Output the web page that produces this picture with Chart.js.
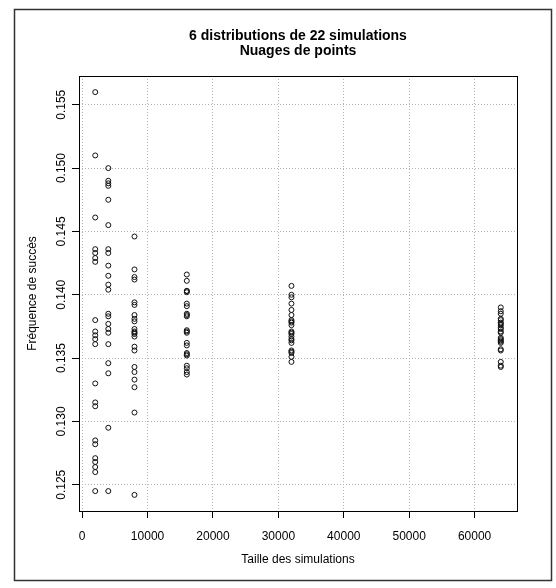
<!DOCTYPE html>
<html>
<head>
<meta charset="utf-8">
<script src="https://cdn.jsdelivr.net/npm/chart.js@4.4.1/dist/chart.umd.min.js"></script>
<style>
  html, body { margin: 0; padding: 0; background: #fff; }
</style>
</head>
<body>
<canvas id="nuages" width="556" height="588"></canvas>
<script>
/* données : 6 tailles de simulation, 22 fréquences chacune */
const tailles = [2000, 4000, 8000, 16000, 32000, 64000];

const freq2000 = [0.1560, 0.1510, 0.1461, 0.1436, 0.1433, 0.1429, 0.1426, 0.1380, 0.1371, 0.1368, 0.1365,
                  0.1361, 0.1330, 0.1315, 0.1312, 0.1285, 0.1282, 0.1271, 0.1268, 0.1264, 0.1260, 0.1245];
const freq4000 = [0.1500, 0.1490, 0.1488, 0.1486, 0.1475, 0.1455, 0.1436, 0.1433, 0.1423, 0.1415, 0.1408,
                  0.1404, 0.1385, 0.1383, 0.1377, 0.1373, 0.1370, 0.1361, 0.1346, 0.1338, 0.1295, 0.1245];
const freq8000 = [0.1446, 0.1420, 0.1414, 0.1412, 0.1394, 0.1392, 0.1384, 0.1381, 0.1379, 0.1373, 0.1371,
                  0.1370, 0.1369, 0.1367, 0.1359, 0.1356, 0.1343, 0.1339, 0.1333, 0.1327, 0.1307, 0.1242];
const freq16000 = [0.1416, 0.1411, 0.1403, 0.1403, 0.1402, 0.1393, 0.1391, 0.1385, 0.1384, 0.1383, 0.1372,
                   0.1371, 0.1370, 0.1362, 0.1360, 0.1354, 0.1353, 0.1352, 0.1344, 0.1342, 0.1339, 0.1337];
const freq32000 = [0.1407, 0.1400, 0.1398, 0.1393, 0.1388, 0.1384, 0.1380, 0.1379, 0.1378, 0.1376, 0.1371,
                   0.1370, 0.1369, 0.1367, 0.1365, 0.1364, 0.1362, 0.1356, 0.1355, 0.1354, 0.1351, 0.1347];
const freq64000 = [0.1390, 0.1387, 0.1385, 0.1381, 0.1380, 0.1378, 0.1377, 0.1376, 0.1374, 0.1373, 0.1371,
                   0.1370, 0.1366, 0.1365, 0.1364, 0.1363, 0.1362, 0.1357, 0.1356, 0.1347, 0.1344, 0.1343];
const frequences = [freq2000, freq4000, freq8000, freq16000, freq32000, freq64000];

const xTicks = [0, 10000, 20000, 30000, 40000, 50000, 60000];
const yTicks = [0.125, 0.130, 0.135, 0.140, 0.145, 0.150, 0.155];

/* fin données */

// étendue à la R : 4% de marge de chaque côté
function etendue(vals) {
  const mn = Math.min(...vals), mx = Math.max(...vals);
  const d = (mx - mn) * 0.04;
  return [mn - d, mx + d];
}

const points = [];
tailles.forEach(function (t, i) {
  frequences[i].forEach(function (f) { points.push({ x: t, y: f }); });
});

const limX = etendue(tailles);
const limY = etendue(frequences.flat());

const police = "'Liberation Sans', Arial, sans-serif";

// cadre de la figure + boîte du graphe
const cadre = {
  id: 'cadre',
  beforeDraw(chart) {
    const ctx = chart.ctx;
    ctx.save();
    ctx.fillStyle = '#fff';
    ctx.fillRect(0, 0, chart.width, chart.height);
    ctx.strokeStyle = '#333';
    ctx.lineWidth = 1.5;
    ctx.strokeRect(14.5, 9.5, 537, 571);
    ctx.restore();
  },
  afterDraw(chart) {
    const a = chart.chartArea;
    const ctx = chart.ctx;
    ctx.save();
    ctx.strokeStyle = '#000';
    ctx.lineWidth = 1;
    ctx.strokeRect(Math.round(a.left) + 0.5, Math.round(a.top) + 0.5,
                   Math.round(a.right - a.left), Math.round(a.bottom - a.top));
    ctx.restore();
  }
};

new Chart(document.getElementById('nuages').getContext('2d'), {
  type: 'scatter',
  data: {
    datasets: [{
      label: 'simulations',
      data: points,
      pointRadius: 2.5,
      pointHoverRadius: 2.5,
      pointBorderWidth: 1,
      borderColor: '#111',
      backgroundColor: 'rgba(0,0,0,0)'
    }]
  },
  options: {
    responsive: false,
    animation: false,
    devicePixelRatio: 1,
    layout: { padding: { left: 0, right: 39, top: 0, bottom: 0 } },
    plugins: {
      legend: { display: false },
      tooltip: { enabled: false },
      title: {
        display: true,
        fullSize: false,
        text: ['6 distributions de 22 simulations', 'Nuages de points'],
        color: '#000',
        font: { family: police, size: 14, weight: 'bold', lineHeight: 15 / 14 },
        padding: { top: 28.5, bottom: 17.5 }
      }
    },
    scales: {
      x: {
        type: 'linear',
        min: limX[0],
        max: limX[1],
        afterBuildTicks: function (s) { s.ticks = xTicks.map(function (v) { return { value: v }; }); },
        afterFit: function (s) { s.height = 77; },
        ticks: {
          autoSkip: false,
          maxRotation: 0,
          padding: 11,
          color: '#000',
          font: { family: police, size: 12 },
          callback: function (v) { return String(v); }
        },
        grid: { color: '#b4b4b4', tickColor: '#000', tickLength: 7, tickBorderDash: [] },
        border: { display: false, dash: [1, 2] },
        title: {
          display: true,
          text: 'Taille des simulations',
          color: '#000',
          font: { family: police, size: 12 },
          padding: { top: 0, bottom: 21 }
        }
      },
      y: {
        type: 'linear',
        min: limY[0],
        max: limY[1],
        afterBuildTicks: function (s) { s.ticks = yTicks.map(function (v) { return { value: v }; }); },
        afterFit: function (s) { s.width = 79; },
        ticks: {
          autoSkip: false,
          minRotation: 90,
          maxRotation: 90,
          crossAlign: 'center',
          padding: -5,
          color: '#000',
          font: { family: police, size: 12 },
          callback: function (v) { return v.toFixed(3); }
        },
        grid: { color: '#b4b4b4', tickColor: '#000', tickLength: 7, tickBorderDash: [] },
        border: { display: false, dash: [1, 2] },
        title: {
          display: true,
          text: 'Fréquence de succès',
          color: '#000',
          font: { family: police, size: 12 },
          padding: { top: 25, bottom: 0 }
        }
      }
    }
  },
  plugins: [cadre]
});
</script>
</body>
</html>
